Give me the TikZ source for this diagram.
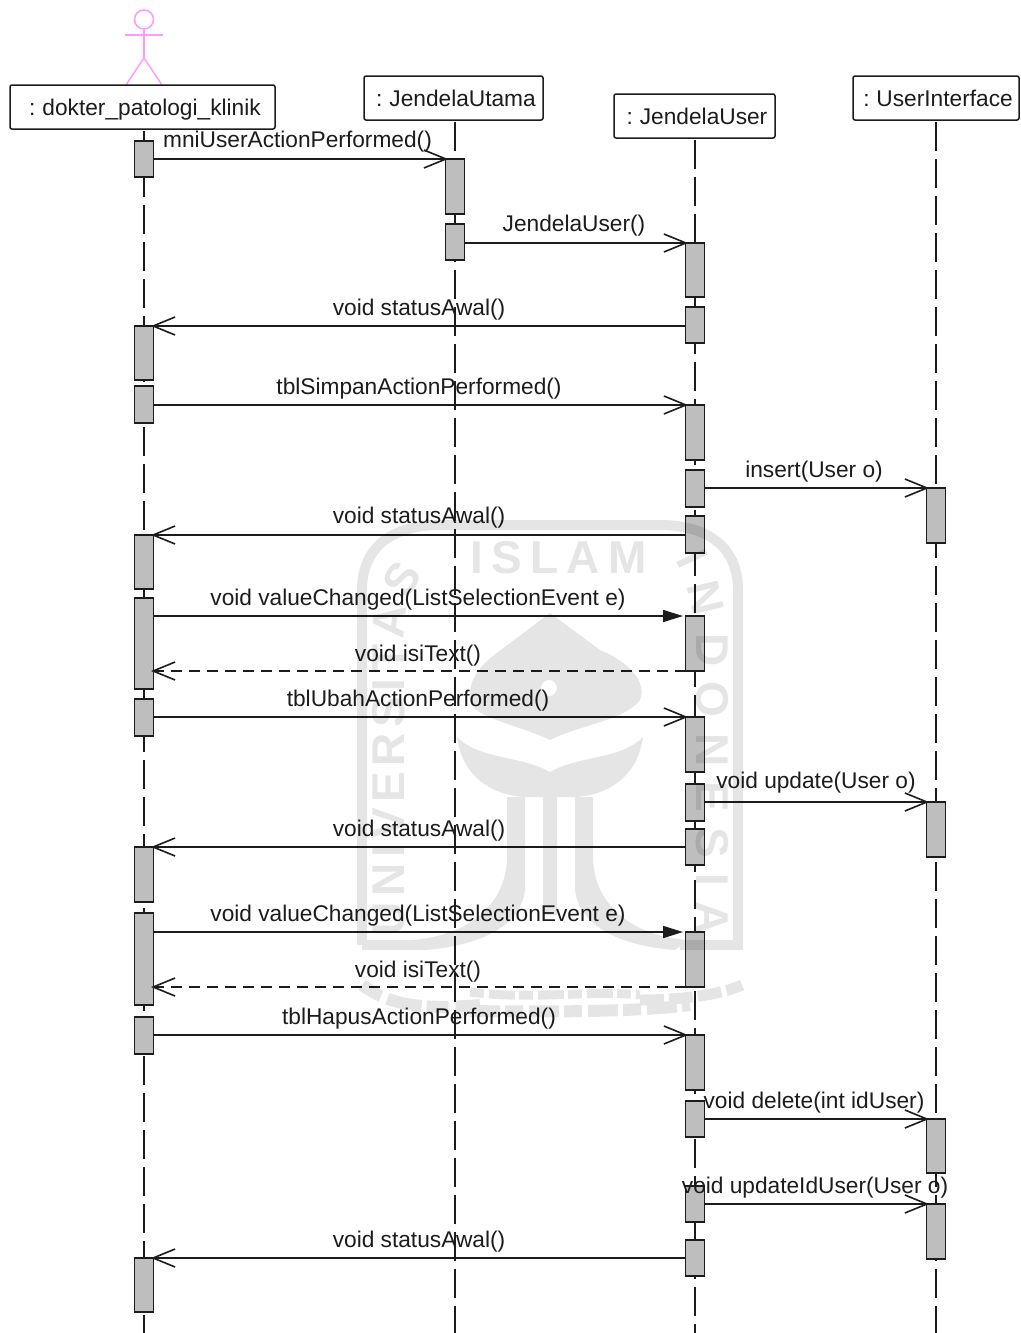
\documentclass[tikz,border=0pt]{standalone}
\usepackage{fontspec}
\setmainfont{Liberation Sans}
\usetikzlibrary{arrows.meta,decorations.text,calc}
\definecolor{actorpink}{HTML}{FF99FF}
\definecolor{actgray}{HTML}{BEBEBE}
\definecolor{ink}{HTML}{1C1C1C}
\newcommand{\umlfont}{\fontsize{22.7}{24}\selectfont}
\newcommand{\wmfont}{\fontsize{46}{48}\selectfont\bfseries}
\newcommand{\actbox}[4]{\node[actbar, minimum height={(#4-#3)*1pt}] (#1) at (#2,{(#3+#4)/2}) {};}
\tikzset{
  headbox/.style={draw=ink, line width=1.5pt, rounded corners=2pt, fill=white, inner sep=0pt, outer sep=0pt, font=\umlfont, text=ink, text height=18pt, text depth=2pt},
  actbar/.style={draw=ink, line width=1.7pt, fill=actgray, minimum width=19pt, inner sep=0pt, outer sep=0pt},
  lifeline/.style={draw=ink, line width=1.7pt, dash pattern=on 29pt off 8pt, dash phase=35pt},
  msgopen/.style={draw=ink, line width=1.6pt, -{Straight Barb[length=22pt,width=18pt,line width=1.6pt]}, shorten >=-2.5pt},
  msgfill/.style={draw=ink, line width=1.6pt, -{Triangle[length=20pt,width=12pt]}, shorten >=2.5pt},
  msgback/.style={msgopen, dash pattern=on 11pt off 7pt},
  lbl/.style={anchor=base, inner sep=0pt, outer sep=0pt, font=\umlfont, text=ink},
  actorline/.style={draw=actorpink, line width=1.5pt},
  wmark/.style={opacity=.1, transparency group},
  wmstroke/.style={draw=black, line width=10pt},
}
\begin{document}
\begin{tikzpicture}[x=1pt,y=-1pt]
\useasboundingbox (0,0) rectangle (1020,1333);
\fill[white] (0,0) rectangle (1020,1333);
% line ends
\coordinate (endA) at (144,1333);
\coordinate (endB) at (455,1333);
\coordinate (endC) at (695,1333);
\coordinate (endD) at (936,1333);
% actor
\node[circle, actorline, draw, minimum size=19pt, inner sep=0pt] (ahead) at (144,19.5) {};
\coordinate (armL) at (125,35);
\coordinate (armR) at (163,35);
\coordinate (hip) at (144,58);
\coordinate (legL) at (126,85);
\coordinate (legR) at (162,85);
\draw[actorline] (ahead.south) -- (hip);
\draw[actorline] (armL) -- (armR);
\draw[actorline] (legL) -- (hip) -- (legR);
% heads
\node[headbox, minimum width=265pt, minimum height=44pt] (hA) at (142.5,107) {\hspace{5pt}:\hspace{-1.5pt} dokter\_patologi\_klinik};
\node[headbox, minimum width=179pt, minimum height=44pt] (hB) at (453.5,98) {\hspace{5pt}:\hspace{-1.5pt} JendelaUtama};
\node[headbox, minimum width=161pt, minimum height=44pt] (hC) at (694.5,116) {\hspace{5pt}:\hspace{-1.5pt} JendelaUser};
\node[headbox, minimum width=166pt, minimum height=44pt] (hD) at (936,98) {\hspace{4pt}:\hspace{-1.5pt} UserInterface};
% lifelines
\draw[lifeline] (endA |- hA.south) -- (endA);
\draw[lifeline] (endB |- hB.south) -- (endB);
\draw[lifeline] (endC |- hC.south) -- (endC);
\draw[lifeline] (endD |- hD.south) -- (endD);
% activation bars
\actbox{a1}{144}{141}{177}
\actbox{a2}{144}{326}{380}
\actbox{a3}{144}{386}{423}
\actbox{a4}{144}{535}{589}
\actbox{a5}{144}{598}{689}
\actbox{a6}{144}{699}{736}
\actbox{a7}{144}{847}{902}
\actbox{a8}{144}{913}{1005}
\actbox{a9}{144}{1017}{1054}
\actbox{a10}{144}{1258}{1312}
\actbox{b1}{455}{159}{214}
\actbox{b2}{455}{224}{260}
\actbox{c1}{695}{243}{297}
\actbox{c2}{695}{307}{343}
\actbox{c3}{695}{405}{460}
\actbox{c4}{695}{470}{507}
\actbox{c5}{695}{516}{553}
\actbox{c6}{695}{616}{671}
\actbox{c7}{695}{717}{772}
\actbox{c8}{695}{784}{821}
\actbox{c9}{695}{829}{865}
\actbox{c10}{695}{932}{987}
\actbox{c11}{695}{1035}{1090}
\actbox{c12}{695}{1101}{1137}
\actbox{c13}{695}{1186}{1222}
\actbox{c14}{695}{1240}{1276}
\actbox{d1}{936}{488}{543}
\actbox{d2}{936}{802}{857}
\actbox{d3}{936}{1119}{1173}
\actbox{d4}{936}{1204}{1259}
% messages
\draw[msgopen] (a1.east |- b1.north) -- (b1.north west);
\draw[msgopen] (b2.east |- c1.north) -- (c1.north west);
\draw[msgopen] (c2.west |- a2.north) -- (a2.north east);
\draw[msgopen] (a3.east |- c3.north) -- (c3.north west);
\draw[msgopen] (c4.east |- d1.north) -- (d1.north west);
\draw[msgopen] (c5.west |- a4.north) -- (a4.north east);
\draw[msgfill] (a5.east |- c6.north) -- (c6.north west);
\draw[msgback] (c6.south west) -- (a5.east |- c6.south);
\draw[msgopen] (a6.east |- c7.north) -- (c7.north west);
\draw[msgopen] (c8.east |- d2.north) -- (d2.north west);
\draw[msgopen] (c9.west |- a7.north) -- (a7.north east);
\draw[msgfill] (a8.east |- c10.north) -- (c10.north west);
\draw[msgback] (c10.south west) -- (a8.east |- c10.south);
\draw[msgopen] (a9.east |- c11.north) -- (c11.north west);
\draw[msgopen] (c12.east |- d3.north) -- (d3.north west);
\draw[msgopen] (c13.east |- d4.north) -- (d4.north west);
\draw[msgopen] (c14.west |- a10.north) -- (a10.north east);
% message labels
\node[lbl] (m1) at (297.5,147) {mniUserActionPerformed()};
\node[lbl] (m2) at (574,231.5) {JendelaUser()};
\node[lbl] (m3) at (419,315) {void statusAwal()};
\node[lbl] (m4) at (419,394) {tblSimpanActionPerformed()};
\node[lbl] (m5) at (814,477) {insert(User o)};
\node[lbl] (m6) at (419,523) {void statusAwal()};
\node[lbl] (m7) at (418,605) {void valueChanged(ListSelectionEvent e)};
\node[lbl] (m8) at (418,661) {void isiText()};
\node[lbl] (m9) at (418,706) {tblUbahActionPerformed()};
\node[lbl] (m10) at (816,788) {void update(User o)};
\node[lbl] (m11) at (419,836) {void statusAwal()};
\node[lbl] (m12) at (418,921) {void valueChanged(ListSelectionEvent e)};
\node[lbl] (m13) at (418,977) {void isiText()};
\node[lbl] (m14) at (419,1024) {tblHapusActionPerformed()};
\node[lbl] (m15) at (814,1108) {void delete(int idUser)};
\node[lbl] (m16) at (815,1193) {void updateIdUser(User o)};
\node[lbl] (m17) at (419,1247) {void statusAwal()};
% faint university emblem behind the drawing
\begin{scope}[wmark]
  \draw[wmstroke] (362,945) -- (362,590) .. controls (362,545) and (395,525) .. (440,525) -- (660,525) .. controls (705,525) and (738,545) .. (738,590) -- (738,945) -- (680,945);
  \draw[wmstroke] (362,945) -- (425,945);
  % flame
  \fill[even odd rule] (550,613) -- (498,652) .. controls (480,665) and (468,680) .. (470,700) .. controls (472,718) and (520,725) .. (550,740) .. controls (580,725) and (625,720) .. (640,700) .. controls (648,680) and (625,660) .. (600,650) -- cycle (549,688) circle[radius=8];
  % crescent with wings
  \fill (457,737) .. controls (462,775) and (490,795) .. (525,797) -- (575,797) .. controls (610,795) and (638,775) .. (643,737) .. controls (620,760) and (580,755) .. (550,772) .. controls (520,755) and (480,760) .. (457,737) -- cycle;
  % pillars and wings
  \fill (507,797) -- (525,797) -- (525,890) .. controls (522,920) and (490,945) .. (425,950) -- (412,940) .. controls (475,935) and (505,900) .. (507,860) -- cycle;
  \fill (593,797) -- (575,797) -- (575,890) .. controls (578,920) and (610,945) .. (675,950) -- (688,940) .. controls (625,935) and (595,900) .. (593,860) -- cycle;
  \fill (543,797) -- (557,797) -- (557,915) -- (543,915) -- cycle;
  % script band
  \draw[line width=12pt, dash pattern=on 22pt off 7pt on 35pt off 5pt] (362,985) .. controls (390,1005) and (420,1010) .. (480,1005);
  \draw[line width=9pt, dash pattern=on 14pt off 5pt on 26pt off 4pt] (470,992) .. controls (530,1000) and (590,990) .. (640,995);
  \draw[line width=12pt, dash pattern=on 30pt off 5pt on 18pt off 6pt] (470,1011) .. controls (540,1012) and (640,1012) .. (690,1005);
  \draw[line width=11pt, dash pattern=on 24pt off 5pt] (640,1000) .. controls (680,1000) and (720,995) .. (742,985);
  % lettering
  \path[decorate, decoration={text along path, text color=black, text align=fit to path, text={|\wmfont|ISLAM}}] (470,573) -- (647,573);
  \path[decorate, decoration={text along path, text color=black, text align=fit to path, text={|\wmfont|UNIVERSITAS}}] (404,935) -- (404,640) .. controls (404,610) and (410,590) .. (425,575);
  \path[decorate, decoration={text along path, text color=black, text align=fit to path, text={|\wmfont|INDONESIA}}] (675,560) .. controls (690,590) and (696,620) .. (696,650) -- (696,935);
\end{scope}
\end{tikzpicture}
\end{document}
